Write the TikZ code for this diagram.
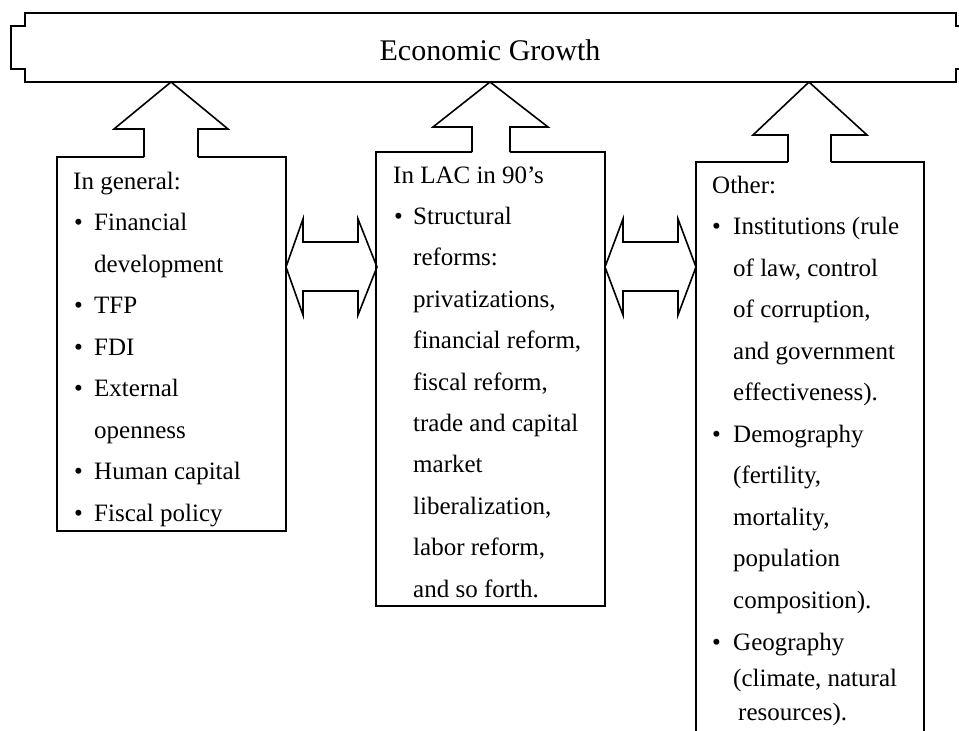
\documentclass[tikz,border=0pt]{standalone}
\usepackage{fontspec}
\setmainfont{Liberation Serif}
\begin{document}
\begin{tikzpicture}[x=1pt, y=-1pt, line join=miter,
  outline/.style={draw=black, line width=1.6pt},
  body/.style={anchor=base west, inner sep=0pt, font=\fontsize{25}{30}\selectfont},
  headline/.style={anchor=base, inner sep=0pt, font=\fontsize{30}{36}\selectfont}]
\useasboundingbox (0,0) rectangle (959,731);

% banner with side tabs
\draw[outline] (25,13) -- (956,13) -- (956,26) -- (963,26) -- (963,69) -- (956,69)
  -- (956,82) -- (25,82) -- (25,69) -- (11,69) -- (11,26) -- (25,26) -- cycle;
\node[headline] (growth) at (490,60) {Economic Growth};

% the three boxes (the right one runs off the bottom)
\draw[outline] (57,157) rectangle (286,531);
\draw[outline] (376,152) rectangle (605,606);
\draw[outline] (696,745) -- (696,162) -- (924,162) -- (924,745);
\coordinate (general) at (171,157);
\coordinate (lac) at (491,152);
\coordinate (other) at (810,162);

% upward block arrows into the banner
\fill[white] (144,158.6) -- (144,129) -- (114,129) -- (171,83) -- (228,129) -- (198,129) -- (198,158.6) -- cycle;
\draw[outline] (144,157) -- (144,129) -- (114,129) -- (171,82) -- (228,129) -- (198,129) -- (198,157);

\fill[white] (472,153.6) -- (472,127) -- (433,127) -- (490,83) -- (548,127) -- (510,127) -- (510,153.6) -- cycle;
\draw[outline] (472,152) -- (472,127) -- (433,127) -- (490,82) -- (548,127) -- (510,127) -- (510,152);

\fill[white] (788,163.6) -- (788,135) -- (753,135) -- (809,83) -- (867,135) -- (831,135) -- (831,163.6) -- cycle;
\draw[outline] (788,162) -- (788,135) -- (753,135) -- (809,82) -- (867,135) -- (831,135) -- (831,162);

% two-headed block arrows between the boxes
\draw[outline] (286,267) -- (303,219) -- (303,242) -- (358,242) -- (358,219) -- (377,267)
  -- (358,315) -- (358,291) -- (303,291) -- (303,315) -- cycle;
\draw[outline] (605,267) -- (623,219) -- (623,242) -- (678,242) -- (678,219) -- (696,267)
  -- (678,315) -- (678,291) -- (623,291) -- (623,315) -- cycle;

% left box text
\node[body] (g0) at (73,189) {In general:};
\node[body] (g1b) at (74,230.5) {•};
\node[body] (g1) at (94,230.5) {Financial};
\node[body] (g2) at (94,272) {development};
\node[body] (g3b) at (74,313.5) {•};
\node[body] (g3) at (94,313.5) {TFP};
\node[body] (g4b) at (74,355) {•};
\node[body] (g4) at (94,355) {FDI};
\node[body] (g5b) at (74,396.5) {•};
\node[body] (g5) at (94,396.5) {External};
\node[body] (g6) at (94,438) {openness};
\node[body] (g7b) at (74,479.5) {•};
\node[body] (g7) at (94,479.5) {Human capital};
\node[body] (g8b) at (74,521) {•};
\node[body] (g8) at (94,521) {Fiscal policy};

% middle box text
\node[body] (m0) at (393,183) {In LAC in 90’s};
\node[body] (m1b) at (394,224.4) {•};
\node[body] (m1) at (413,224.4) {Structural};
\node[body] (m2) at (413,265.8) {reforms:};
\node[body] (m3) at (413,307.2) {privatizations,};
\node[body] (m4) at (413,348.6) {financial reform,};
\node[body] (m5) at (413,390) {fiscal reform,};
\node[body] (m6) at (413,431.4) {trade and capital};
\node[body] (m7) at (413,472.8) {market};
\node[body] (m8) at (413,514.2) {liberalization,};
\node[body] (m9) at (413,555.6) {labor reform,};
\node[body] (m10) at (413,597) {and so forth.};

% right box text
\node[body] (o0) at (712,193) {Other:};
\node[body] (o1b) at (712,234.5) {•};
\node[body] (o1) at (733,234.5) {Institutions (rule};
\node[body] (o2) at (733,276) {of law, control};
\node[body] (o3) at (733,317.5) {of corruption,};
\node[body] (o4) at (733,359) {and government};
\node[body] (o5) at (733,400.5) {effectiveness).};
\node[body] (o6b) at (712,442) {•};
\node[body] (o6) at (733,442) {Demography};
\node[body] (o7) at (733,483.5) {(fertility,};
\node[body] (o8) at (733,525) {mortality,};
\node[body] (o9) at (733,566.5) {population};
\node[body] (o10) at (733,608) {composition).};
\node[body] (o11b) at (712,650) {•};
\node[body] (o11) at (733,650) {Geography};
\node[body] (o12) at (733,686) {(climate, natural};
\node[body] (o13) at (738,720) {resources).};
\end{tikzpicture}
\end{document}
